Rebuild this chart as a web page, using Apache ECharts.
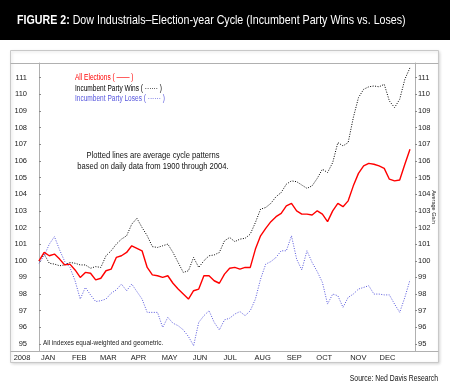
<!DOCTYPE html>
<html><head><meta charset="utf-8">
<script src="https://cdn.jsdelivr.net/npm/echarts@6/dist/echarts.min.js"></script>
<style>html,body{margin:0;padding:0;background:#fff}#c{width:450px;height:391px}</style>
</head><body><div id="c"></div>
<script>
// ---- data ----
const titleBold = 'FIGURE 2:';
const titleRest = ' Dow Industrials\u2013Election-year Cycle (Incumbent Party Wins vs. Loses)';
const yearLabel = '2008';
const months = ['JAN','FEB','MAR','APR','MAY','JUN','JUL','AUG','SEP','OCT','NOV','DEC'];
const monthStartDays = [0,21,40,61,82,103,124,145,167,187,210,230];
const yTicks = [95,96,97,98,99,100,101,102,103,104,105,106,107,108,109,110,111];
const seriesNames = ['All Elections','Incumbent Party Wins','Incumbent Party Loses'];
const daysPerSample = 3.5;
const allElections = [100.0,100.5,100.3,100.4,100.1,99.75,99.8,99.45,99.0,99.3,99.25,98.85,98.95,99.4,99.5,100.2,100.3,100.5,100.9,100.75,100.6,99.6,99.15,99.1,99.0,99.1,98.65,98.3,98.0,97.7,98.2,98.3,99.1,99.1,98.8,98.65,99.2,99.55,99.6,99.5,99.6,99.6,100.7,101.5,101.95,102.35,102.65,102.85,103.3,103.45,103.0,102.8,102.8,102.75,103.0,102.8,102.35,103.0,103.45,103.25,103.6,104.5,105.25,105.7,105.85,105.8,105.7,105.55,104.9,104.8,104.85,105.8,106.7];
const partyWins = [100.0,100.4,99.85,99.8,99.7,99.75,99.9,99.85,99.75,99.75,99.55,99.65,99.6,100.3,100.6,101.0,101.3,101.5,102.2,102.55,102.0,101.5,100.85,100.8,100.9,101.0,100.5,99.9,99.3,99.4,100.2,99.6,100.0,100.3,100.35,100.5,101.2,101.4,101.15,101.3,101.35,101.6,102.3,103.1,103.2,103.45,103.85,104.1,104.6,104.8,104.75,104.55,104.35,104.5,104.95,105.5,105.3,105.9,107.1,106.9,107.1,108.6,109.8,110.3,110.45,110.5,110.45,110.6,109.6,109.2,109.7,110.9,111.6];
const partyLoses = [99.85,100.3,101.0,101.45,100.65,99.95,99.6,98.8,97.7,98.4,97.95,97.55,97.6,97.7,98.05,98.25,98.6,98.2,98.6,98.15,97.7,96.9,96.9,96.9,96.0,96.6,96.25,96.1,95.85,95.45,94.9,96.3,96.7,97.0,96.3,95.85,96.45,96.55,96.8,96.95,96.7,97.0,97.7,98.9,99.8,99.95,100.2,100.6,100.6,101.5,100.1,99.45,100.6,99.9,99.35,98.7,97.4,98.0,97.9,97.2,97.8,98.0,98.3,98.4,98.5,98.0,98.0,97.95,97.95,97.4,96.9,97.8,98.85];
const annotation1 = 'Plotted lines are average cycle patterns';
const annotation2 = 'based on daily data from 1900 through 2004.';
const footnote = 'All indexes equal-weighted and geometric.';
const source = 'Source: Ned Davis Research';
const axisName = 'Average Gain';

// ---- chart ----
const FONT = "'Liberation Sans',Arial,sans-serif";
const pairs = arr => arr.map((v, i) => [i * daysPerSample, v]);
const RED = '#ff0000', BLACK = '#000000', BLUE = '#5555dd';

function txt(x, y, text, fill, size, sx, align, extra) {
  return {type: 'text', z: 5, x: x, y: y, scaleX: sx,
    style: Object.assign({x: 0, y: 0, text: text, fill: fill, fontFamily: FONT, fontSize: size,
      align: align || 'left', verticalAlign: 'middle'}, extra || {})};
}

const chart = echarts.init(document.getElementById('c'), null, {renderer: 'canvas'});
const yBase = {
  type: 'value', min: 94.58, max: 111.88,
  splitLine: {show: false},
  axisLine: {show: true, lineStyle: {color: '#b0b0b0', width: 1}},
};
chart.setOption({
  animation: false,
  backgroundColor: '#fff',
  grid: {left: 33, right: 35, top: 63, bottom: 40, containLabel: false},
  xAxis: {
    type: 'value', min: -4.08, max: 255.4,
    splitLine: {show: false},
    axisLine: {show: false},
    axisTick: {show: false},
    axisLabel: {
      customValues: monthStartDays,
      formatter: v => months[monthStartDays.indexOf(v)] || '',
      align: 'left', padding: [0, 0, 0, 2], margin: 3,
      color: '#222', fontFamily: FONT, fontSize: 7.5
    }
  },
  yAxis: [
    Object.assign({}, yBase, {
      position: 'left',
      axisTick: {show: true, inside: true, length: 2, customValues: yTicks, lineStyle: {color: '#888'}},
      axisLabel: {customValues: yTicks, margin: 6, color: '#222', fontFamily: FONT, fontSize: 7.5}
    }),
    Object.assign({}, yBase, {
      position: 'right',
      name: axisName, nameLocation: 'middle', nameRotate: -90, nameGap: 16, nameMoveOverlap: false,
      nameTextStyle: {fontFamily: FONT, fontSize: 5.5, color: '#222'},
      axisTick: {show: true, inside: false, length: 2, customValues: yTicks, lineStyle: {color: '#888'}},
      axisLabel: {customValues: yTicks, margin: 3, color: '#222', fontFamily: FONT, fontSize: 7.5}
    })
  ],
  series: [
    {name: seriesNames[1], type: 'line', data: pairs(partyWins), showSymbol: false, symbol: 'none',
     lineStyle: {color: BLACK, width: 1, type: [1, 1.5]}, z: 3},
    {name: seriesNames[2], type: 'line', data: pairs(partyLoses), showSymbol: false, symbol: 'none',
     lineStyle: {color: BLUE, width: 1, type: [1, 1.5]}, z: 3},
    {name: seriesNames[0], type: 'line', data: pairs(allElections), showSymbol: false, symbol: 'none',
     lineStyle: {color: RED, width: 1.4}, z: 4}
  ],
  graphic: [
    {type: 'rect', shape: {x: 0, y: 0, width: 450, height: 40}, style: {fill: '#000'}, z: 0},
    txt(17, 20, '{b|' + titleBold + '}' + titleRest, '#fff', 13, 0.82, 'left',
      {rich: {b: {fontWeight: 'bold', fontFamily: FONT, fontSize: 13, fill: '#fff'}}}),
    {type: 'rect', z: -1, shape: {x: 10.5, y: 50.5, width: 428, height: 312},
     style: {fill: '#fff', stroke: '#c8c8c8', lineWidth: 1, shadowBlur: 3, shadowColor: 'rgba(0,0,0,0.15)', shadowOffsetX: 1, shadowOffsetY: 1}},
    {type: 'line', z: 1, shape: {x1: 10.5, y1: 63.5, x2: 438.5, y2: 63.5}, style: {stroke: '#b0b0b0', lineWidth: 1}},
    {type: 'line', z: 1, shape: {x1: 10.5, y1: 351.5, x2: 438.5, y2: 351.5}, style: {stroke: '#b0b0b0', lineWidth: 1}},
    txt(22, 358, yearLabel, '#222', 7.5, 1, 'center'),
    txt(75, 78, seriesNames[0] + ' ( \u2014\u2014 )', RED, 8.5, 0.77),
    txt(75, 88.5, seriesNames[1] + ' ( \u00b7\u00b7\u00b7\u00b7\u00b7\u00b7 )', BLACK, 8.5, 0.77),
    txt(75, 98.5, seriesNames[2] + ' ( \u00b7\u00b7\u00b7\u00b7\u00b7\u00b7 )', BLUE, 8.5, 0.77),
    txt(153, 155, annotation1, '#111', 9.5, 0.8, 'center'),
    txt(153, 166.5, annotation2, '#111', 9.5, 0.8, 'center'),
    txt(43, 343, footnote, '#222', 8, 0.8),
    txt(438, 378, source, '#111', 9.5, 0.72, 'right')
  ]
});
</script></body></html>
